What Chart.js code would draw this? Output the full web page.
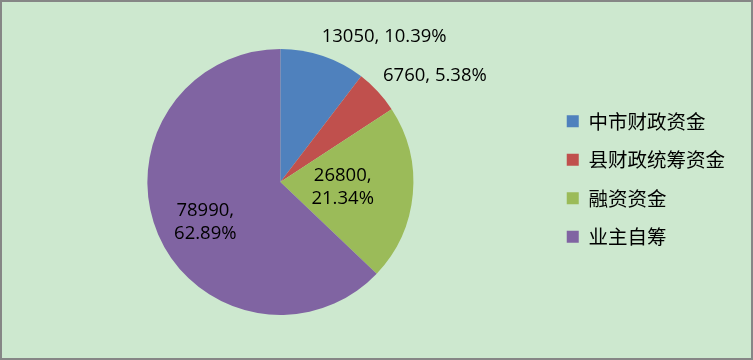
<!DOCTYPE html>
<html>
<head>
<meta charset="utf-8">
<script src="https://cdn.jsdelivr.net/npm/chart.js@4/dist/chart.umd.min.js"></script>
<style>
  html, body { margin:0; padding:0; background:#cde8cf; }
  #wrap { width:753px; height:360px; position:relative; }
</style>
</head>
<body>
<div id="wrap"><canvas id="grafico" width="753" height="360"></canvas></div>
<script>
// ===== dados =====
const categorias = ["中市财政资金", "县财政统筹资金", "融资资金", "业主自筹"];
const valores = [13050, 6760, 26800, 78990];
const percentuais = ["10.39%", "5.38%", "21.34%", "62.89%"];
const cores = ["#4f81bd", "#c0504d", "#9bbb59", "#8064a2"];

// ===== fundo + borda =====
const fundo = {
    id: "fundo",
    afterLayout(chart){
        // sobe um pouco a legenda
        if(chart.legend){
            chart.legend.top -= 3;
            chart.legend.bottom -= 3;
        }
    },
    beforeDraw(chart){
        const c = chart.ctx;
        c.save();
        c.fillStyle = "#cde8cf";
        c.fillRect(0, 0, chart.width, chart.height);
        c.strokeStyle = "#868686";
        c.lineWidth = 2;
        c.strokeRect(1, 1, chart.width - 2, chart.height - 2);
        c.restore();
    }
};

// ===== rotulos =====
// posicao de cada rotulo: angulo (graus, a partir do topo, horario) e fator do raio
const rotulos = {
    id: "rotulos",
    afterDatasetsDraw(chart, args, opts){
        const c = chart.ctx;
        const meta = chart.getDatasetMeta(0);
        c.save();
        c.font = "18.5px 'Open Sans'";
        c.fillStyle = "#000";
        c.textAlign = "center";
        c.textBaseline = "middle";
        meta.data.forEach((arc, i)=>{
            const p = opts.pos[i];
            const a = (p[0] - 90) * Math.PI / 180;
            const r = arc.outerRadius * p[1];
            const x = arc.x + Math.cos(a) * r;
            const y = arc.y + Math.sin(a) * r;
            const v = valores[i] + ",";
            if(p[2]){
                c.fillText(v, x, y - 11.5);
                c.fillText(percentuais[i], x, y + 11.5);
            } else {
                c.fillText(v + " " + percentuais[i], x, y);
            }
        });
        c.restore();
    }
};

new Chart(document.getElementById("grafico"), {
    type: "pie",
    data: {
        labels: categorias,
        datasets: [{
            data: valores,
            backgroundColor: cores,
            borderWidth: 0
        }]
    },
    options: {
        responsive: false,
        animation: false,
        layout: { padding: { top: 49, bottom: 45, left: 13, right: 18 } },
        plugins: {
            tooltip: { enabled: false },
            legend: {
                position: "right",
                labels: {
                    boxWidth: 12,
                    boxHeight: 12,
                    padding: 19,
                    color: "#000",
                    font: { family: "'Noto Sans CJK SC'", size: 19.5 }
                }
            },
            rotulos: {
                pos: [
                    [35.6, 1.34, false],
                    [55.5, 1.41, false],
                    [94.5, 0.47, true],
                    [241.9, 0.64, true]
                ]
            }
        }
    },
    plugins: [fundo, rotulos]
});
</script>
</body>
</html>
